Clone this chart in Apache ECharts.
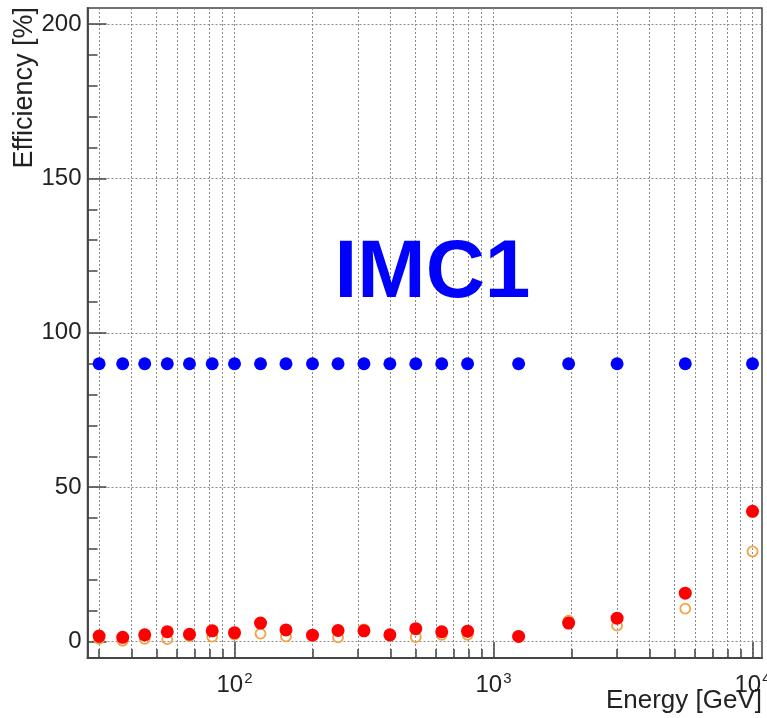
<!DOCTYPE html>
<html>
<head>
<meta charset="utf-8">
<title>IMC1 efficiency vs energy</title>
<script src="https://cdn.jsdelivr.net/npm/echarts@6/dist/echarts.min.js"></script>
<style>
  html, body { margin: 0; padding: 0; background: #ffffff; }
  #chart { width: 767px; height: 718px; }
</style>
</head>
<body>
<div id="chart"></div>
<script>
// Beam energies [GeV]
const energies = [30, 37, 45, 55, 67, 82, 100, 126, 158, 200, 251, 316, 398, 501, 631, 794, 1250, 1950, 3000, 5500, 10000];

// Efficiencies [%]
const effBlue   = [90, 90, 90, 90, 90, 90, 90, 90, 90, 90, 90, 90, 90, 90, 90, 90, 90, 90, 90, 90, 90];
const effRed    = [1.8, 1.4, 2.2, 3.2, 2.4, 3.5, 2.9, 6.0, 3.8, 2.1, 3.6, 3.5, 2.2, 4.2, 3.2, 3.4, 1.7, 6.0, 7.6, 15.7, 42.2];
const effOrange = [0.9, 0.3, 0.9, 0.8, 1.8, 1.6, 2.3, 2.6, 1.7, 2.0, 1.4, 4.0, 2.0, 1.5, 2.2, 2.2, 1.7, 6.8, 5.2, 10.7, 29.2];

// Axis ticks
const xMajorTicks = [100, 1000, 10000];
const xMinorTicks = [30, 40, 50, 60, 70, 80, 90, 200, 300, 400, 500, 600, 700, 800, 900,
                     2000, 3000, 4000, 5000, 6000, 7000, 8000, 9000];
const yMajorTicks = [0, 50, 100, 150, 200];
const yMinorTicks = [0, 10, 20, 30, 40, 50, 60, 70, 80, 90, 100, 110, 120, 130, 140, 150, 160, 170, 180, 190, 200];

// Energy range shown [GeV] and efficiency range [%]
const energyRange = [27.06, 10880];
const effRange = [-5.3, 205.2];

const lg = Math.log10;
const pts = (ys) => energies.map((e, i) => [lg(e), ys[i]]);

const FONT = "'Liberation Sans', Arial, Helvetica, sans-serif";
const INK = '#222';
const FRAME = '#444';

const chart = echarts.init(document.getElementById('chart'), null, { renderer: 'canvas' });

const xAll = xMajorTicks.concat(xMinorTicks).map(lg).sort((a, b) => a - b);

const baseX = {
  type: 'value',
  position: 'bottom',
  min: lg(energyRange[0]),
  max: lg(energyRange[1]),
  axisLine: { show: true, onZero: false, lineStyle: { color: FRAME, width: 1.5 } }
};
const baseY = {
  type: 'value',
  position: 'left',
  min: effRange[0],
  max: effRange[1],
  axisLine: { show: true, onZero: false, lineStyle: { color: FRAME, width: 1.5 } }
};

chart.setOption({
  animation: false,
  backgroundColor: '#ffffff',
  grid: {
    left: 87.5, right: 5, top: 8, bottom: 60,
    containLabel: false,
    outerBoundsMode: 'none',
    show: true,
    borderColor: FRAME,
    borderWidth: 1.5,
    backgroundColor: 'transparent'
  },
  xAxis: [
    Object.assign({}, baseX, {
      axisTick: { show: true, inside: true, length: 16, customValues: xMajorTicks.map(lg),
                  lineStyle: { color: FRAME, width: 1.5 } },
      axisLabel: {
        show: true, margin: 13, customValues: xMajorTicks.map(lg),
        formatter: (v) => '{b|10}{s|' + Math.round(v) + '}',
        rich: {
          b: { fontFamily: FONT, fontSize: 24, lineHeight: 26, color: INK, verticalAlign: 'bottom' },
          s: { fontFamily: FONT, fontSize: 15, lineHeight: 15, color: INK, verticalAlign: 'top', padding: [0, 0, 0, 1] }
        }
      },
      splitLine: { show: false }
    }),
    Object.assign({}, baseX, {
      axisTick: { show: true, inside: true, length: 9, customValues: xAll,
                  lineStyle: { color: FRAME, width: 1.5 } },
      axisLabel: { show: false },
      splitLine: { show: true, lineStyle: { color: '#8a8a8a', width: 1, type: [2, 2] } }
    })
  ],
  yAxis: [
    Object.assign({}, baseY, {
      axisTick: { show: true, inside: true, length: 19, customValues: yMajorTicks,
                  lineStyle: { color: FRAME, width: 1.5 } },
      axisLabel: { show: true, margin: 6, customValues: yMajorTicks,
                   fontFamily: FONT, fontSize: 24, color: INK },
      splitLine: { show: true, lineStyle: { color: '#8a8a8a', width: 1, type: [2, 2] } }
    }),
    Object.assign({}, baseY, {
      axisTick: { show: true, inside: true, length: 10, customValues: yMinorTicks,
                  lineStyle: { color: FRAME, width: 1.5 } },
      axisLabel: { show: false },
      splitLine: { show: false }
    })
  ],
  series: [
    {
      name: 'orange',
      type: 'scatter',
      xAxisIndex: 0, yAxisIndex: 0,
      data: pts(effOrange),
      symbol: 'circle',
      symbolSize: 10,
      itemStyle: { color: 'rgba(255,255,255,0)', borderColor: '#f3a244', borderWidth: 1.8, opacity: 1 },
      z: 3
    },
    {
      name: 'red',
      type: 'scatter',
      xAxisIndex: 0, yAxisIndex: 0,
      data: pts(effRed),
      symbol: 'circle',
      symbolSize: 13,
      itemStyle: { color: '#ff0000', opacity: 1 },
      z: 4
    },
    {
      name: 'blue',
      type: 'scatter',
      xAxisIndex: 0, yAxisIndex: 0,
      data: pts(effBlue),
      symbol: 'circle',
      symbolSize: 13,
      itemStyle: { color: '#0000ff', opacity: 1 },
      z: 4
    }
  ],
  graphic: [
    {
      type: 'text',
      x: 432.5, y: 274,
      style: { text: 'IMC1', fill: '#0000ff', font: "bold 82px " + FONT,
               textAlign: 'center', textVerticalAlign: 'middle' },
      z: 10
    },
    {
      type: 'text',
      x: 762, y: 701,
      style: { text: 'Energy [GeV]', fill: INK, font: "26px " + FONT,
               textAlign: 'right', textVerticalAlign: 'middle' },
      z: 10
    },
    {
      type: 'text',
      x: 25, y: 7,
      rotation: Math.PI / 2,
      style: { text: 'Efficiency [%]', fill: INK, font: "27px " + FONT,
               textAlign: 'right', textVerticalAlign: 'middle' },
      z: 10
    }
  ]
});
</script>
</body>
</html>
